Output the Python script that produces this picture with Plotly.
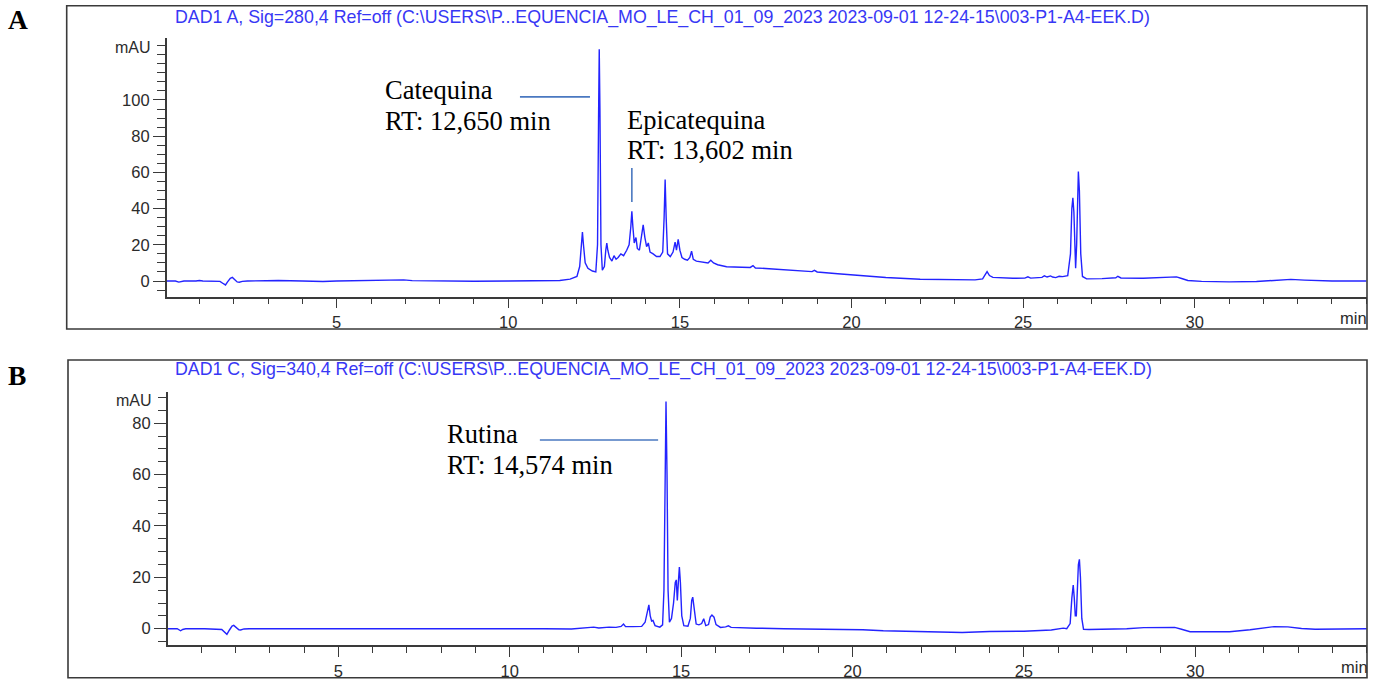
import plotly.graph_objects as go

# ---------------- data ----------------
# Panel A: DAD1 A, 280 nm  (time in min, signal in mAU)
a_time = [0.05, 0.3, 0.40, 0.45, 0.55, 0.9, 1.0, 1.1, 1.6, 1.70, 1.76, 1.82, 1.90, 1.96, 2.03, 2.10, 2.16, 2.25, 2.40,
          3.0, 3.15, 3.3, 4.0, 4.6, 5.0, 6.0, 6.95, 7.2, 8.0, 9.0, 10.0, 11.0, 11.5, 11.8, 12.0,
          12.08, 12.13, 12.16, 12.19, 12.24, 12.32, 12.45, 12.55, 12.60, 12.63, 12.65, 12.67, 12.70, 12.74,
          12.80, 12.84, 12.87, 12.90, 12.95, 13.02, 13.08, 13.14, 13.20, 13.28, 13.36, 13.45, 13.52,
          13.57, 13.60, 13.63, 13.67, 13.72, 13.76, 13.82, 13.88, 13.93, 13.98, 14.03, 14.08, 14.13,
          14.22, 14.32, 14.42, 14.50, 14.54, 14.57, 14.60, 14.64, 14.72, 14.80, 14.86, 14.90, 14.95,
          15.00, 15.06, 15.14, 15.22, 15.29, 15.34, 15.39, 15.48, 15.60, 15.72, 15.82, 15.90, 15.98,
          16.10, 16.36, 16.8, 17.05, 17.13, 17.2, 17.6, 18.3, 18.85, 18.92, 19.0, 19.6, 20.25, 21.0,
          22.0, 23.0, 23.6, 23.82, 23.9, 23.95, 24.02, 24.12, 24.7, 25.05, 25.14, 25.22, 25.55, 25.62,
          25.70, 25.80, 25.86, 25.95, 26.05, 26.15, 26.30, 26.38, 26.42, 26.45, 26.48, 26.51, 26.53,
          26.56, 26.59, 26.61, 26.64, 26.68, 26.73, 26.85, 27.3, 27.70, 27.76, 27.85, 28.5, 29.0, 29.35,
          29.47, 29.62, 29.8, 30.2, 31.0, 31.8, 32.4, 32.8, 33.2, 33.6, 34.0, 35.0]
a_mau = [0.0, 0.0, -0.6, -0.3, 0.0, 0.0, 0.3, 0.0, -0.2, -1.5, -2.2, -0.5, 1.5, 2.0, 1.0, -0.5, -0.7, -0.2, 0.0,
         0.2, 0.6, 0.3, 0.0, -0.3, 0.0, 0.1, 0.6, 0.2, 0.0, -0.1, 0.0, 0.1, 0.3, 1.0, 2.5,
         8, 22, 27, 20, 10, 7, 5.5, 5, 20, 90, 128, 95, 20, 6,
         8, 17, 21, 17, 13, 11, 14, 12, 13, 15, 14, 17, 20,
         30, 38.5, 30, 21, 24, 18, 17, 26, 31, 24, 19, 21, 16,
         15, 13.5, 13.5, 16, 35, 56, 35, 15, 13.5, 16, 21.5, 17, 23,
         17, 13, 12, 11.5, 13, 16.5, 12, 11, 10.5, 10, 10, 11.5, 10,
         9, 7.9, 7.6, 7.5, 8.5, 7.2, 6.8, 5.8, 5.2, 5.9, 5.0, 4.0, 2.9, 1.9,
         1.0, 0.7, 0.6, 1.2, 4.0, 5.2, 3.0, 2.0, 1.5, 1.6, 2.3, 1.6, 2.0, 2.9,
         2.2, 2.8, 2.2, 1.9, 2.6, 2.4, 3.0, 15, 40, 46, 38, 12, 7,
         20, 55, 60.5, 50, 15, 2.5, 1.2, 1.3, 1.8, 2.6, 1.7, 1.5, 1.8, 2.0,
         2.3, 1.4, 0.3, -0.2, -0.5, -0.3, 0.5, 0.9, 0.5, 0.1, 0.0, 0.0]

# Panel B: DAD1 C, 340 nm
b_time = [0.02, 0.3, 0.40, 0.46, 0.55, 0.9, 1.0, 1.1, 1.6, 1.70, 1.75, 1.82, 1.90, 1.95, 2.02, 2.10, 2.15, 2.25, 2.40,
          5.0, 8.0, 10.0, 11.0, 11.8, 12.2, 12.45, 12.6, 12.8, 12.9, 13.1, 13.25, 13.32, 13.38, 13.6,
          13.85, 13.95, 14.02, 14.06, 14.10, 14.14, 14.18, 14.24, 14.38, 14.46, 14.50, 14.53, 14.56,
          14.59, 14.62, 14.66, 14.72, 14.78, 14.83, 14.86, 14.89, 14.92, 14.95, 14.98, 15.02, 15.08,
          15.20, 15.27, 15.31, 15.34, 15.38, 15.44, 15.52, 15.60, 15.66, 15.72, 15.80, 15.85, 15.90,
          15.96, 16.02, 16.15, 16.30, 16.38, 16.46, 16.8, 17.2, 18.0, 19.0, 20.0, 20.3, 20.9, 22.0,
          23.0, 23.2, 24.0, 25.0, 25.8, 26.05, 26.15, 26.25, 26.35, 26.40, 26.44, 26.47, 26.50, 26.53,
          26.56, 26.59, 26.62, 26.65, 26.69, 26.74, 26.9, 27.5, 28.0, 28.5, 29.0, 29.4, 29.6, 29.85,
          30.5, 31.0, 31.6, 32.0, 32.3, 32.7, 33.1, 33.5, 34.2, 35.0]
b_mau = [0.0, 0.0, -0.8, -0.3, 0.0, 0.0, 0.2, 0.0, -0.3, -1.6, -2.2, -0.6, 1.0, 1.3, 0.5, -0.4, -0.5, -0.1, 0.0,
         0.0, 0.0, 0.2, 0.0, -0.1, 0.2, 0.6, 0.3, 0.5, 0.6, 0.5, 0.9, 1.8, 0.8, 0.8,
         0.9, 2.5, 7.5, 9.3, 5, 3, 3.2, 1.2, 0.6, 1.5, 15, 60, 88.5,
         60, 15, 2.5, 4, 10, 18, 19, 11, 18, 24, 18, 5, 1.2,
         1.0, 4, 11, 12.3, 8, 1.8, 1.5, 2.0, 3.9, 1.2, 1.6, 4.5, 5.3,
         4.5, 1.6, 0.5, 0.7, 1.1, 0.5, 0.3, 0.2, 0.0, -0.1, -0.2, -0.4, -0.8, -1.0,
         -1.3, -1.5, -1.1, -1.0, -0.5, -0.2, 0.2, 0.0, 2, 12, 17, 12, 5, 5,
         15, 25, 27, 20, 4, -0.2, -0.3, -0.2, 0.0, 0.4, 0.5, 0.5, -0.2, -1.2,
         -1.2, -1.2, -0.4, 0.3, 0.8, 0.7, 0.1, -0.2, 0.0, 0.0]

x_tick_vals = [5, 10, 15, 20, 25, 30]
x_tick_text = ["5", "10", "15", "20", "25", "30"]
a_y_tick_vals = [0, 20, 40, 60, 80, 100]
b_y_tick_vals = [0, 20, 40, 60, 80]

title_a = "DAD1 A, Sig=280,4 Ref=off (C:\\USERS\\P...EQUENCIA_MO_LE_CH_01_09_2023 2023-09-01 12-24-15\\003-P1-A4-EEK.D)"
title_b = "DAD1 C, Sig=340,4 Ref=off (C:\\USERS\\P...EQUENCIA_MO_LE_CH_01_09_2023 2023-09-01 12-24-15\\003-P1-A4-EEK.D)"

# ---------------- layout helpers ----------------
W, H = 1377, 679
def px(x):
    return x / W
def py(y):
    return 1 - y / H

LINE = "rgb(35,35,255)"
AX = "#3a3a3a"
TICKF = dict(family="Liberation Sans, Arial", size=16.5, color="#2b2b2b")
SERIF = "Liberation Serif, Times New Roman"
PTR = "#4a78c0"

fig = go.Figure()
fig.add_trace(go.Scatter(x=a_time, y=a_mau, mode="lines", line=dict(color=LINE, width=1.4),
                         xaxis="x", yaxis="y", showlegend=False, hoverinfo="skip"))
fig.add_trace(go.Scatter(x=b_time, y=b_mau, mode="lines", line=dict(color=LINE, width=1.4),
                         xaxis="x2", yaxis="y2", showlegend=False, hoverinfo="skip"))

def xaxis_cfg(domain, rng, anchor):
    return dict(domain=domain, range=rng, anchor=anchor, showgrid=False, zeroline=False,
                showline=True, linecolor=AX, linewidth=1.5,
                ticks="outside", ticklen=10, tickwidth=1.3, tickcolor=AX,
                tickvals=x_tick_vals, ticktext=x_tick_text, tickfont=TICKF,
                minor=dict(ticks="outside", dtick=1, tick0=0, ticklen=6, tickwidth=1.3, tickcolor=AX, showgrid=False))

def yaxis_cfg(domain, rng, anchor, vals):
    return dict(domain=domain, range=rng, anchor=anchor, showgrid=False, zeroline=False,
                showline=True, linecolor=AX, linewidth=1.5,
                ticks="outside", ticklen=12, tickwidth=1.3, tickcolor=AX,
                tickvals=vals, ticktext=[str(v) for v in vals], tickfont=TICKF,
                minor=dict(ticks="outside", dtick=5, tick0=0, ticklen=8, tickwidth=1.3, tickcolor=AX, showgrid=False))

fig.update_layout(
    width=W, height=H, margin=dict(l=0, r=0, t=0, b=0),
    paper_bgcolor="white", plot_bgcolor="white",
    xaxis=xaxis_cfg([px(166.7), px(1367)], [0.047, 35.02], "y"),
    yaxis=yaxis_cfg([py(296.7), py(37.7)], [-8.67, 134.4], "x", a_y_tick_vals),
    xaxis2=xaxis_cfg([px(167.7), px(1367)], [0.023, 35.01], "y2"),
    yaxis2=yaxis_cfg([py(645), py(391.7)], [-6.35, 92.3], "x2", b_y_tick_vals),
)

shapes = [
    # panel frames
    dict(type="rect", xref="paper", yref="paper", x0=px(66.7), x1=px(1367), y0=py(329), y1=py(5.7),
         line=dict(color=AX, width=1.6)),
    dict(type="rect", xref="paper", yref="paper", x0=px(68), x1=px(1367), y0=py(677.7), y1=py(360),
         line=dict(color=AX, width=1.6)),
    # pointer lines
    dict(type="line", xref="x", yref="y", x0=10.34, x1=12.38, y0=101.7, y1=101.7, line=dict(color=PTR, width=1.6)),
    dict(type="line", xref="x", yref="y", x0=13.6, x1=13.6, y0=43.6, y1=62.4, line=dict(color=PTR, width=1.6)),
    dict(type="line", xref="x2", yref="y2", x0=10.88, x1=14.33, y0=73.5, y1=73.5, line=dict(color=PTR, width=1.6)),
]
fig.update_layout(shapes=shapes)

def ann(text, x, y, size, family, color="black", xanchor="left", bold=False):
    if bold:
        text = "<b>" + text + "</b>"
    return dict(text=text, xref="paper", yref="paper", x=px(x), y=py(y), xanchor=xanchor, yanchor="middle",
                showarrow=False, font=dict(family=family, size=size, color=color), borderpad=0, borderwidth=0)

TITLEF = "Liberation Sans, Arial"
annotations = [
    ann("A", 7.5, 19, 27.5, SERIF, bold=True),
    ann("B", 8, 375.6, 27.5, SERIF, bold=True),
    ann(title_a, 662.5, 17.2, 17.8, TITLEF, color="rgb(55,55,245)", xanchor="center"),
    ann(title_b, 663.8, 369.9, 17.8, TITLEF, color="rgb(55,55,245)", xanchor="center"),
    ann("mAU", 150.7, 47.7, 16, TITLEF, color="#2b2b2b", xanchor="right"),
    ann("mAU", 151.5, 400, 16, TITLEF, color="#2b2b2b", xanchor="right"),
    ann("min", 1340, 318.3, 16.5, TITLEF, color="#2b2b2b"),
    ann("min", 1341, 666.5, 16.5, TITLEF, color="#2b2b2b"),
    ann("Catequina", 385, 90.2, 26.5, SERIF),
    ann("RT: 12,650 min", 385, 121.2, 26.5, SERIF),
    ann("Epicatequina", 626.7, 119.5, 26.5, SERIF),
    ann("RT: 13,602 min", 626.7, 149.5, 26.5, SERIF),
    ann("Rutina", 446.7, 433.9, 26.5, SERIF),
    ann("RT: 14,574 min", 446.7, 464.5, 26.5, SERIF),
]
fig.update_layout(annotations=annotations)

fig.write_html("out.html")
